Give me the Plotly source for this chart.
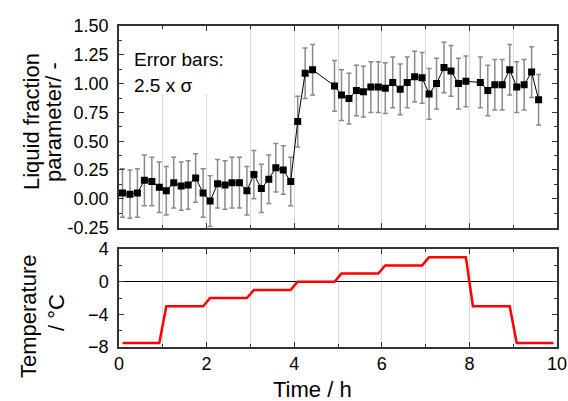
import plotly.graph_objects as go

# ---- data ----
time_h = [0.08, 0.25, 0.42, 0.58, 0.75, 0.92, 1.08, 1.25, 1.42, 1.58, 1.75, 1.92,
          2.08, 2.25, 2.42, 2.58, 2.75, 2.92, 3.08, 3.25, 3.42, 3.58, 3.75, 3.92,
          4.08, 4.25, 4.42,
          4.92, 5.08, 5.25, 5.42, 5.58, 5.75, 5.92, 6.08, 6.25, 6.42, 6.58, 6.75,
          6.92, 7.08, 7.25, 7.42, 7.58, 7.75, 7.92,
          8.25, 8.42, 8.58, 8.75, 8.92, 9.08, 9.25, 9.42, 9.58]
liquid = [0.05, 0.04, 0.05, 0.16, 0.15, 0.10, 0.07, 0.14, 0.11, 0.12, 0.18, 0.05,
          -0.02, 0.13, 0.12, 0.14, 0.14, 0.07, 0.21, 0.09, 0.17, 0.27, 0.25, 0.15,
          0.67, 1.09, 1.12,
          0.98, 0.90, 0.87, 0.94, 0.93, 0.97, 0.97, 0.96, 1.01, 0.95, 1.01, 1.06,
          1.05, 0.91, 1.00, 1.14, 1.11, 1.00, 1.02,
          1.01, 0.94, 0.99, 0.99, 1.12, 0.97, 0.99, 1.10, 0.86]
liquid_err = [0.21, 0.21, 0.21, 0.22, 0.21, 0.22, 0.21, 0.22, 0.21, 0.21, 0.21, 0.21,
              0.22, 0.21, 0.21, 0.22, 0.22, 0.21, 0.21, 0.21, 0.21, 0.21, 0.21, 0.21,
              0.22, 0.22, 0.22,
              0.22, 0.22, 0.22, 0.22, 0.22, 0.22, 0.22, 0.22, 0.22, 0.22, 0.22, 0.22,
              0.22, 0.22, 0.22, 0.22, 0.22, 0.22, 0.22,
              0.22, 0.22, 0.22, 0.22, 0.22, 0.22, 0.22, 0.22, 0.22]

time_T = [0.08, 0.92, 1.08, 1.92, 2.08, 2.92, 3.08, 3.92, 4.08, 4.92,
          5.08, 5.92, 6.08, 6.92, 7.08, 7.92, 8.08, 8.92, 9.08, 9.92]
temperature = [-7.5, -7.5, -3, -3, -2, -2, -1, -1, 0, 0,
               1, 1, 2, 2, 3, 3, -3, -3, -7.5, -7.5]

x_ticks = [0, 2, 4, 6, 8, 10]
y1_ticks = [-0.25, 0.0, 0.25, 0.5, 0.75, 1.0, 1.25, 1.5]
y1_ticklabels = ["-0.25", "0.00", "0.25", "0.50", "0.75", "1.00", "1.25", "1.50"]
y2_ticks = [-8, -4, 0, 4]

FONT = "Liberation Sans, Arial, sans-serif"
AXC = "#333333"

fig = go.Figure()
fig.add_trace(go.Scatter(
    x=time_h, y=liquid, mode="lines+markers",
    line=dict(color="black", width=1),
    marker=dict(symbol="square", size=7, color="black"),
    error_y=dict(type="data", array=liquid_err, visible=True,
                 color="#8a8a8a", thickness=1.5, width=2.5),
    xaxis="x", yaxis="y", showlegend=False))
fig.add_trace(go.Scatter(
    x=time_T, y=temperature, mode="lines",
    line=dict(color="#ff0000", width=2.5),
    xaxis="x2", yaxis="y2", showlegend=False))

common_x = dict(range=[0, 10], tickvals=x_ticks, ticks="inside", ticklen=5,
                tickcolor=AXC, showline=True, linecolor=AXC, linewidth=1.5,
                mirror="ticks", showgrid=True, gridcolor="#dcdcdc", gridwidth=1,
                zeroline=False, automargin=False,
                minor=dict(dtick=1, ticks="inside", ticklen=3, tickcolor=AXC,
                           showgrid=True, gridcolor="#dcdcdc", gridwidth=1),
                tickfont=dict(family=FONT, size=18, color="black"))

fig.update_layout(
    width=568, height=401,
    margin=dict(l=119, r=11, t=26, b=54),
    paper_bgcolor="white", plot_bgcolor="white",
    font=dict(family=FONT, color="black"),
    xaxis=dict(domain=[0, 1], anchor="y", showticklabels=False, **common_x),
    xaxis2=dict(domain=[0, 1], anchor="y2", matches="x", showticklabels=True, **common_x),
    yaxis=dict(domain=[0.372, 1], range=[-0.25, 1.5], tickvals=y1_ticks,
               ticktext=y1_ticklabels, ticks="inside", ticklen=5, tickcolor=AXC,
               showline=True, linecolor=AXC, linewidth=1.5, mirror="ticks",
               showgrid=False, zeroline=False, ticklabelstandoff=5, automargin=False,
               minor=dict(dtick=0.125, ticks="inside", ticklen=3, tickcolor=AXC),
               tickfont=dict(family=FONT, size=18, color="black")),
    yaxis2=dict(domain=[0, 0.305], range=[-8, 4], tickvals=y2_ticks,
                ticks="inside", ticklen=5, tickcolor=AXC,
                showline=True, linecolor=AXC, linewidth=1.5, mirror="ticks",
                showgrid=False, zeroline=True, zerolinecolor="black", zerolinewidth=1,
                ticklabelstandoff=5, automargin=False,
                minor=dict(dtick=2, ticks="inside", ticklen=3, tickcolor=AXC),
                tickfont=dict(family=FONT, size=18, color="black")),
)

# white box behind the "Error bars" note (covers gridlines)
fig.add_shape(type="rect", xref="x", yref="y", x0=0.02, x1=2.3, y0=0.91, y1=1.49,
              fillcolor="white", line=dict(width=0), layer="between")

ann = []
ann.append(dict(text="Error bars:", xref="paper", yref="paper", x=0.03, y=0.895,
                xanchor="left", yanchor="middle", showarrow=False,
                font=dict(family=FONT, size=19, color="black")))
ann.append(dict(text="2.5 x σ", xref="paper", yref="paper", x=0.03, y=0.814,
                xanchor="left", yanchor="middle", showarrow=False,
                font=dict(family=FONT, size=19, color="black")))
# y-axis titles (two lines each)
ann.append(dict(text="Liquid fraction", xref="paper", yref="paper",
                x=(31 - 119) / 438, y=(347 - 122) / 321, textangle=-90,
                xanchor="center", yanchor="middle", showarrow=False,
                font=dict(family=FONT, size=22, color="black")))
ann.append(dict(text="parameter/ -", xref="paper", yref="paper",
                x=(53 - 119) / 438, y=(347 - 122) / 321, textangle=-90,
                xanchor="center", yanchor="middle", showarrow=False,
                font=dict(family=FONT, size=22, color="black")))
ann.append(dict(text="Temperature", xref="paper", yref="paper",
                x=(28 - 119) / 438, y=(347 - 316) / 321, textangle=-90,
                xanchor="center", yanchor="middle", showarrow=False,
                font=dict(family=FONT, size=22, color="black")))
ann.append(dict(text="/ °C", xref="paper", yref="paper",
                x=(56 - 119) / 438, y=(347 - 313) / 321, textangle=-90,
                xanchor="center", yanchor="middle", showarrow=False,
                font=dict(family=FONT, size=22, color="black")))
ann.append(dict(text="Time / h", xref="paper", yref="paper",
                x=(312 - 119) / 438, y=(347 - 390) / 321,
                xanchor="center", yanchor="middle", showarrow=False,
                font=dict(family=FONT, size=22, color="black")))
fig.update_layout(annotations=ann)

fig.write_html("out.html", config={"displayModeBar": False},
               post_script="document.body.style.margin='0';"
                           "document.documentElement.style.overflow='hidden';")
